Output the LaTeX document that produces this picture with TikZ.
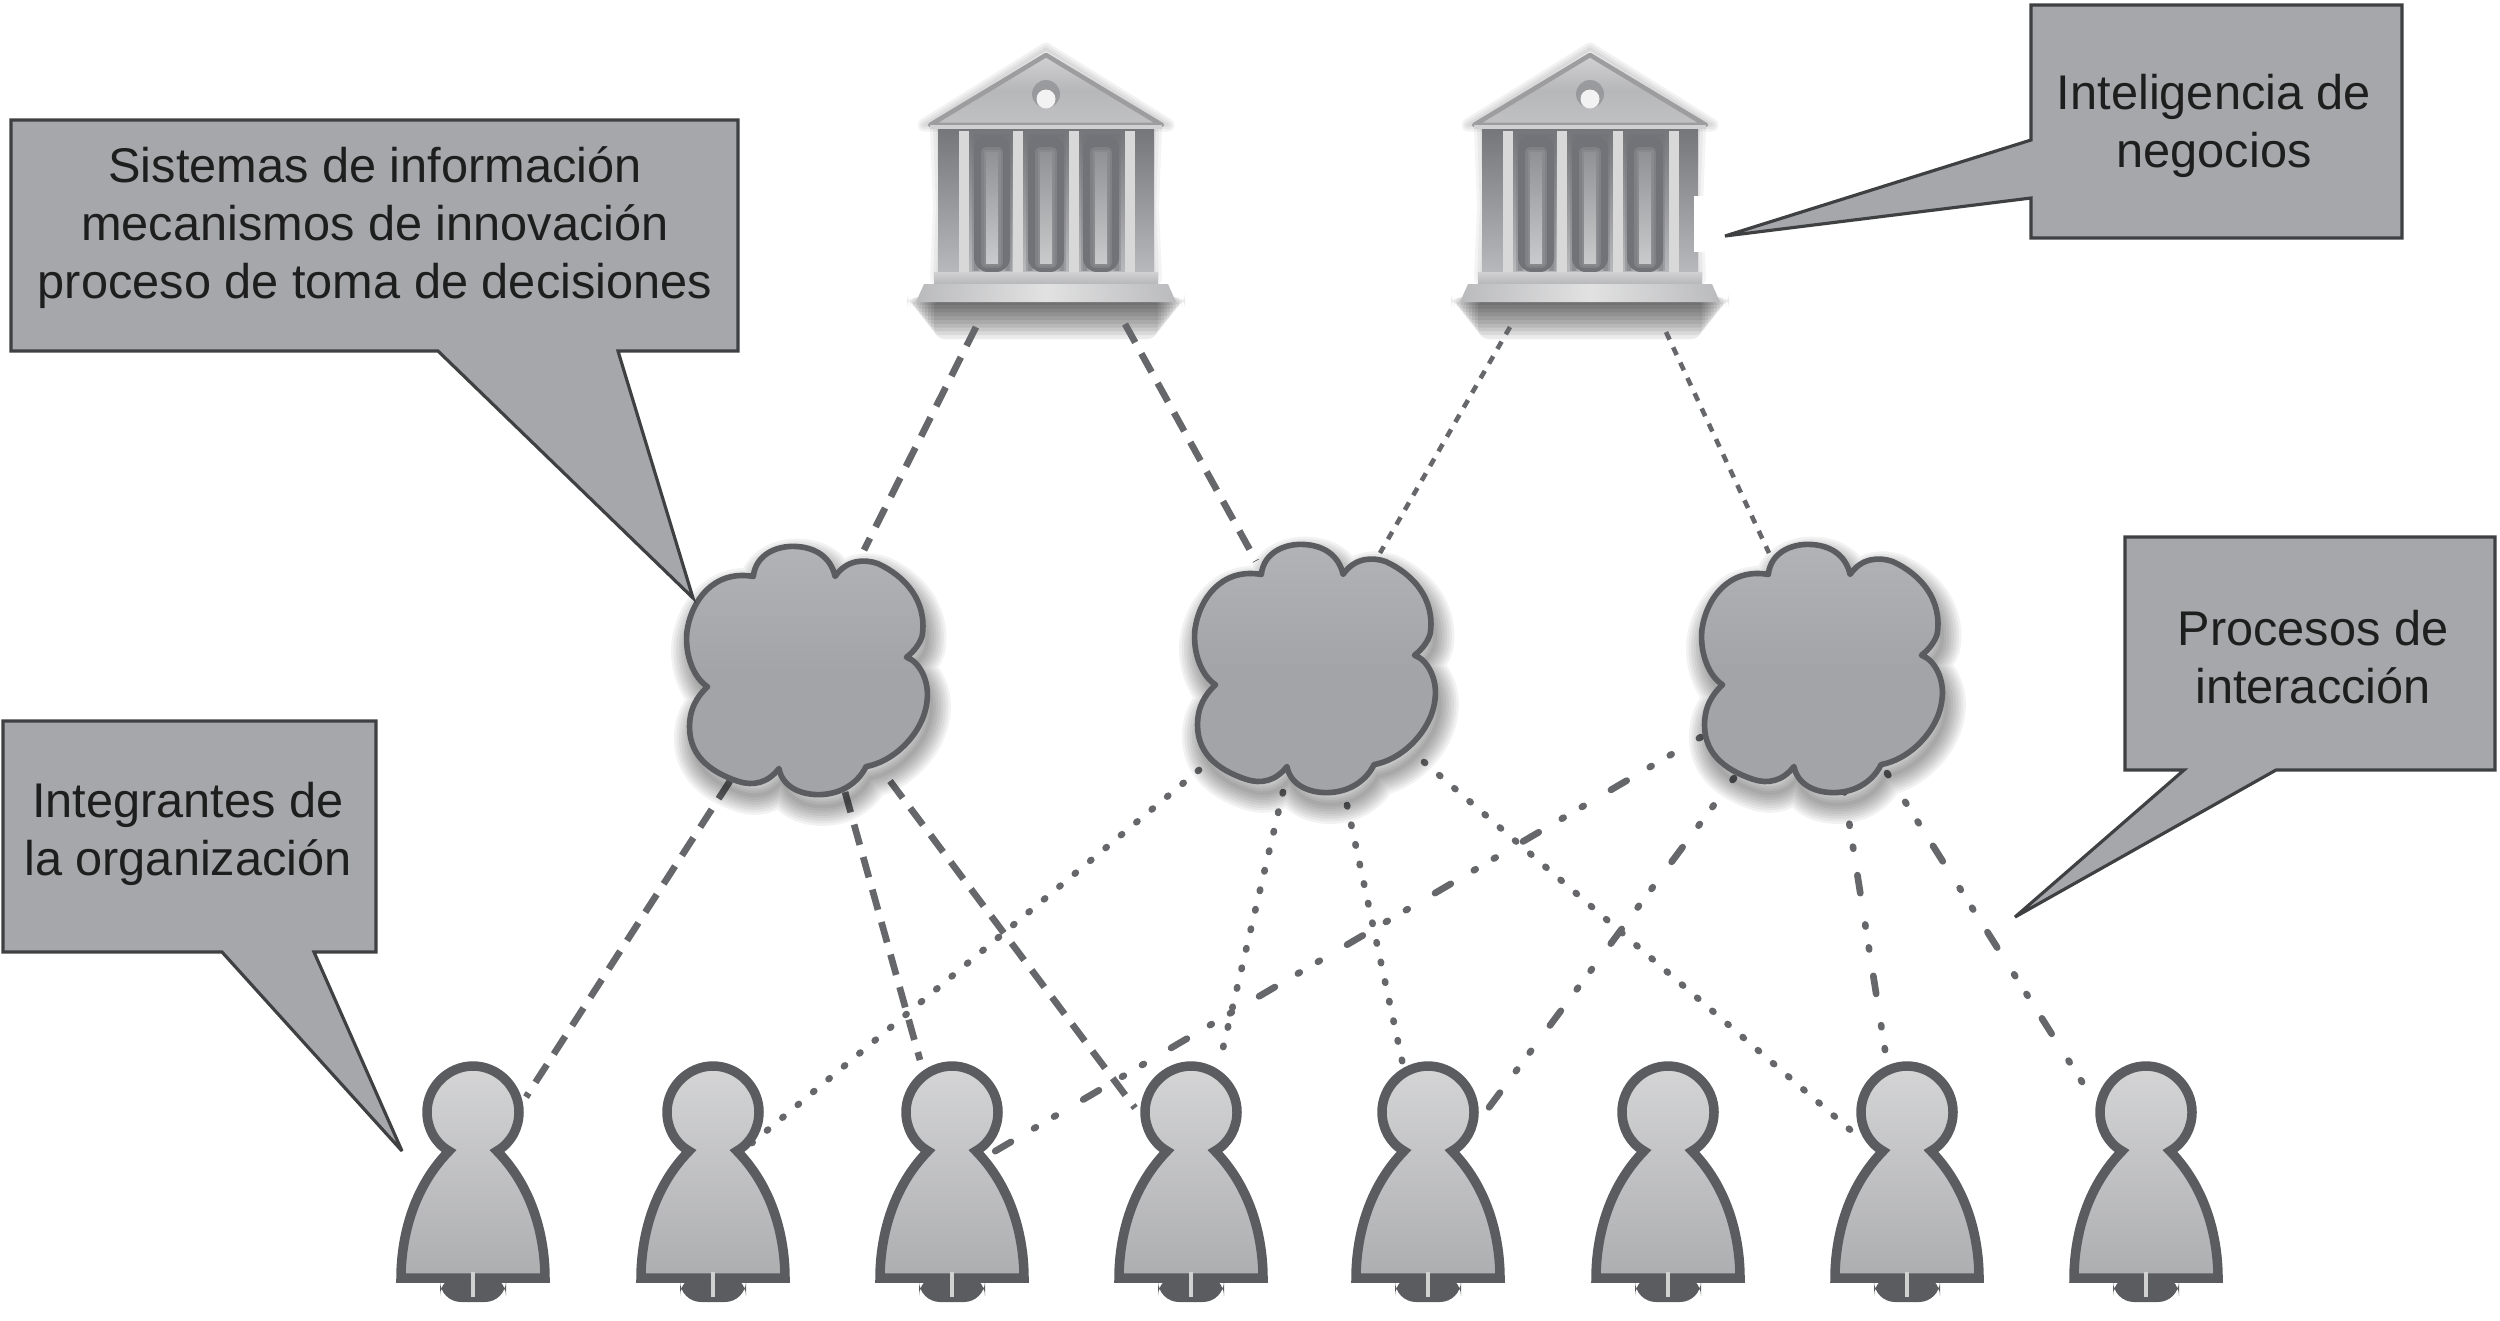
\documentclass[tikz,border=0pt]{standalone}
\usepackage{fontspec}
\setmainfont{Liberation Sans}
\usetikzlibrary{calc}
\definecolor{inkdark}{HTML}{5B5C60}
\definecolor{cloudfill}{HTML}{A3A4A8}
\definecolor{cloudtop}{HTML}{B2B3B6}
\definecolor{boxfill}{HTML}{A6A7AB}
\definecolor{boxline}{HTML}{3F4042}
\definecolor{linkgray}{HTML}{66676A}
\definecolor{txt}{HTML}{1E1E1E}
\definecolor{recess}{HTML}{727378}
\definecolor{bay}{HTML}{8A8B90}
\newcommand{\cloudpath}{(-54.5,-95) .. controls (-52,-118) and (-30,-126) .. (-13,-125.5) .. controls (8,-125) and (24,-115) .. (28.5,-95) .. controls (40,-112) and (58,-113) .. (72,-108) .. controls (100,-95) and (122,-70) .. (117,-35) .. controls (115,-28) and (110,-20) .. (101,-13) .. controls (115,-8) and (124,12) .. (122,30) .. controls (120,60) and (92,92) .. (60,98) .. controls (50,118) and (30,127) .. (10,126.5) .. controls (-8,126) and (-25,118) .. (-28.5,100) .. controls (-40,115) and (-55,118) .. (-70,113) .. controls (-100,103) and (-122,85) .. (-119,52) .. controls (-118,40) and (-113,28) .. (-101,17) .. controls (-115,8) and (-124,-15) .. (-122,-38) .. controls (-118,-70) and (-95,-102) .. (-54.5,-95) -- cycle}
\newcommand{\personpath}{(-72,0) -- (72,0) .. controls (72,-30) and (65,-85) .. (24,-127) .. controls (38,-135) and (46,-150) .. (46,-166) .. controls (46,-191) and (25,-212) .. (0,-212) .. controls (-25,-212) and (-46,-191) .. (-46,-166) .. controls (-46,-150) and (-38,-135) .. (-24,-127) .. controls (-65,-85) and (-72,-30) .. (-72,0) -- cycle}
\tikzset{
  x=0.01cm,y=-0.01cm,
  anchorbox/.style={inner sep=0pt,outer sep=0pt,draw=none,fill=none},
  dashthick/.style={draw=linkgray,line width=1.9pt,dash pattern=on 6pt off 3.6pt},
  dotfine/.style={draw=linkgray,line width=1.3pt,dash pattern=on 2.4pt off 2.4pt},
  dotround/.style={draw=linkgray,line width=1.9pt,line cap=round,dash pattern=on 0.4pt off 5.3pt},
  dashdot/.style={draw=linkgray,line width=1.9pt,line cap=round,dash pattern=on 5.2pt off 9pt on 0.6pt off 6pt on 0.6pt off 7.6pt,dash phase=4.5pt},
  callout/.style={draw=boxline,line width=0.9pt,fill=boxfill,line join=miter,miter limit=4},
  calltext/.style={anchorbox,text=txt,align=center,font=\fontsize{13.85}{16.5}\selectfont},
  building/.pic={
    \foreach \w in {6,12,18,24}{\path[draw=black,line width=\w*0.2845pt,opacity=.045,line join=round] (-104,2) -- (104,2) -- (101,80) -- (104,150) -- (-104,150) -- (-101,80) -- cycle;}
    \foreach \w in {3,8,13}{\path[draw=black,line width=\w*0.2845pt,opacity=.05,line join=round] (-122,-2) -- (0,-78) -- (122,-2) -- cycle;}
    \foreach \i in {1,...,10}{\fill[black,opacity=.08,rounded corners=3pt] (-142+\i*3,170) rectangle (142-\i*3,174+\i*3.8);}
    \shade[top color=bay!85!black,bottom color=bay!60!white] (-108,2) rectangle (108,147);
    \foreach \c in {-82,-28,28,84}{
      \foreach \w in {6,3}{\path[draw=white!78!inkdark,line width=\w*0.2845pt,opacity=.4] (\c,4) -- (\c,147);}
      \fill[white!76!inkdark] (\c-5,4) rectangle (\c+5,147);
    }
    \foreach \c in {-54,0,55}{
      \foreach \w in {8,4}{\path[draw=recess,line width=\w*0.2845pt,opacity=.35,line join=round] (\c-16,144) -- (\c-16,10) -- (\c+16,10) -- (\c+16,144);}
      \fill[recess,rounded corners=4pt] (\c-18,145) -- (\c-18,8) -- (\c+18,8) -- (\c+18,145) -- cycle;
      \foreach \w in {10,5}{\path[draw=white!30!recess,line width=\w*0.2845pt,opacity=.35,line join=round] (\c-6,136) -- (\c-6,25) -- (\c+6,25) -- (\c+6,136) -- cycle;}
      \shade[top color=white!22!recess,bottom color=white!62!recess] (\c-6,136) -- (\c-6,25) -- (\c+6,25) -- (\c+6,136) -- cycle;
    }
    \shade[top color=white!72!inkdark,bottom color=white!62!inkdark,middle color=white!56!inkdark,draw=white!40!inkdark,line width=1.3pt,line join=round] (0,-72) -- (116,-2) -- (-116,-2) -- cycle;
    \fill[white!72!inkdark] (-116,-2) rectangle (116,2);
    \fill[white!30!inkdark,opacity=.7] (0,-33) circle (14);
    \fill[white!92!inkdark] (0,-28) circle (9.5);
    \shade[top color=white!72!inkdark,bottom color=white!56!inkdark] (-112,145) rectangle (112,157);
    \shade[left color=white!58!inkdark,right color=white!58!inkdark,middle color=white!82!inkdark] (-122,157) -- (122,157) -- (130,175) -- (-130,175) -- cycle;
  },
  cloudshape/.pic={
    \foreach \w in {4,9,14,19,24,29,34,39}{\path[draw=black,line width=\w*0.2845pt,opacity=.05,line join=round,shift={(4,12)}] \cloudpath;}
    \shade[top color=cloudtop,bottom color=cloudfill,middle color=cloudfill] \cloudpath;
    \draw[inkdark,line width=1.6pt,line join=round] \cloudpath;
  },
  personshape/.pic={
    \fill[inkdark,rounded corners=6pt] (-33,-3) rectangle (33,24);
    \shade[top color=white!74!inkdark,bottom color=white!50!inkdark,draw=inkdark,line width=2.7pt,line join=miter,miter limit=6] \personpath;
    \fill[white!72!inkdark] (-2,-6) rectangle (2,19);
  },
}
\begin{document}
\begin{tikzpicture}
\useasboundingbox (0,0) rectangle (2500,1320);
% anchors of the icons
\node[anchorbox,minimum width=3.0cm,minimum height=2.9cm] (b1) at (1046,190) {};
\node[anchorbox,minimum width=3.0cm,minimum height=2.9cm] (b2) at (1590,190) {};
\node[anchorbox,minimum width=2.44cm,minimum height=2.53cm] (c1) at (807,670) {};
\node[anchorbox,minimum width=2.44cm,minimum height=2.53cm] (c2) at (1315,668) {};
\node[anchorbox,minimum width=2.44cm,minimum height=2.53cm] (c3) at (1822,668) {};
\foreach \n/\x in {p1/473,p2/713,p3/952,p4/1191,p5/1428,p6/1668,p7/1907,p8/2146}{
  \node[anchorbox,minimum width=1.5cm,minimum height=2.34cm] (\n) at (\x,1182) {};
}
% icons with their soft shadows come first, connectors stop at their rims
\pic at (1046,127) {building};
\pic at (1590,127) {building};
\fill[white] (1694,196) rectangle (1716,252);
% connectors
\draw[dashthick] ([shift={(-70,137)}]b1.center) -- ([shift={(57,-120)}]c1.center);
\draw[dashthick] ([shift={(79,134)}]b1.center) -- ([shift={(-59,-107)}]c2.center);
\draw[dotfine] ([shift={(-80,137)}]b2.center) -- ([shift={(65,-115)}]c2.center);
\draw[dotfine] ([shift={(76,142)}]b2.center) -- ([shift={(-53,-115)}]c3.center);
\draw[dashthick] ([shift={(-77,111)}]c1.center) -- ([shift={(53,-85)}]p1.center);
\draw[dashthick] ([shift={(38,122)}]c1.center) -- ([shift={(-32,-122)}]p3.center);
\draw[dashthick] ([shift={(83,111)}]c1.center) -- ([shift={(-56,-74)}]p4.center);
\draw[dotround] ([shift={(-116,102)}]c2.center) -- ([shift={(39,-39)}]p2.center);
\draw[dotround] ([shift={(-32,124)}]c2.center) -- ([shift={(28,-117)}]p4.center);
\draw[dotround] ([shift={(32,137)}]c2.center) -- ([shift={(-25,-117)}]p5.center);
\draw[dotround] ([shift={(109,94)}]c2.center) -- ([shift={(-45,-42)}]p7.center);
\draw[dashdot] ([shift={(-121,69)}]c3.center) -- ([shift={(40,-29)}]p3.center);
\draw[dashdot] ([shift={(-88,110)}]c3.center) -- ([shift={(59,-72)}]p5.center);
\draw[dashdot] ([shift={(22,122)}]c3.center) -- ([shift={(-22,-132)}]p7.center);
\draw[dashdot] ([shift={(65,105)}]c3.center) -- ([shift={(-57,-89)}]p8.center);
\foreach \n in {c1,c2,c3}{\pic[scale=.985] at (\n) {cloudshape};}
\foreach \n in {p1,p2,p3,p4,p5,p6,p7,p8}{\pic at ([shift={(0,96)}]\n.center) {personshape};}
% callouts
\draw[callout] (11,120) -- (738,120) -- (738,351) -- (618,351) -- (693,598) -- (438,351) -- (11,351) -- cycle;
\node[calltext] (t1) at (375,228) {Sistemas de información\\mecanismos de innovación\\proceso de toma de decisiones};
\draw[callout] (2031,5) -- (2402,5) -- (2402,238) -- (2031,238) -- (2031,198) -- (1725,236) -- (2031,140) -- cycle;
\node[calltext] (t2) at (2214,126) {Inteligencia de\\negocios};
\draw[callout] (2125,537) -- (2495,537) -- (2495,770) -- (2276,770) -- (2015,917) -- (2184,770) -- (2125,770) -- cycle;
\node[calltext] (t3) at (2313,657) {Procesos de\\interacción};
\draw[callout] (3,721) -- (376,721) -- (376,952) -- (314,952) -- (402,1151) -- (222,952) -- (3,952) -- cycle;
\node[calltext] (t4) at (188,834) {Integrantes de\\la organización};
\end{tikzpicture}
\end{document}
